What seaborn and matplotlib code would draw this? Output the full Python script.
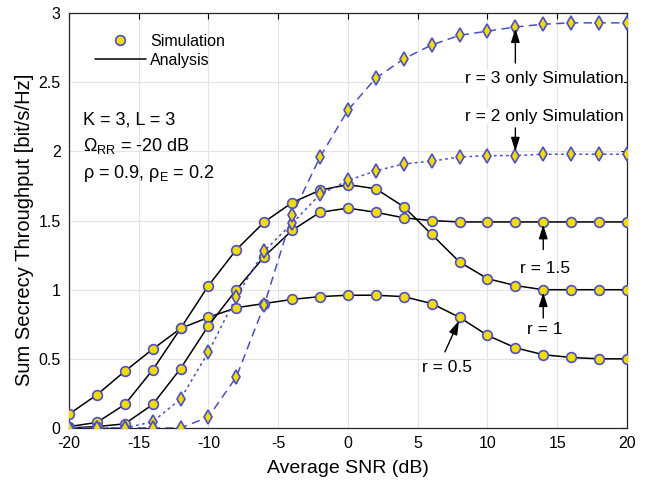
import numpy as np
import pandas as pd
import matplotlib
matplotlib.use("Agg")
import matplotlib.pyplot as plt
import seaborn as sns
from matplotlib.lines import Line2D

snr = [-20, -18, -16, -14, -12, -10, -8, -6, -4, -2, 0, 2, 4, 6, 8, 10, 12, 14, 16, 18, 20]

r05 = [0.10, 0.24, 0.41, 0.57, 0.72, 0.80, 0.87, 0.90, 0.93, 0.95, 0.96, 0.96, 0.95, 0.90, 0.80, 0.67, 0.58, 0.53, 0.51, 0.50, 0.50]
r1 = [0.01, 0.04, 0.17, 0.42, 0.72, 1.03, 1.29, 1.49, 1.63, 1.72, 1.76, 1.73, 1.60, 1.40, 1.20, 1.08, 1.03, 1.00, 1.00, 1.00, 1.00]
r15 = [0.00, 0.01, 0.03, 0.17, 0.43, 0.74, 1.00, 1.24, 1.43, 1.56, 1.59, 1.56, 1.52, 1.50, 1.49, 1.49, 1.49, 1.49, 1.49, 1.49, 1.49]
r2 = [0.00, 0.00, 0.00, 0.045, 0.21, 0.55, 0.95, 1.28, 1.48, 1.69, 1.79, 1.86, 1.91, 1.93, 1.96, 1.97, 1.97, 1.98, 1.98, 1.98, 1.98]
r3 = [0.00, 0.00, 0.00, 0.00, 0.00, 0.08, 0.37, 0.89, 1.54, 1.96, 2.30, 2.53, 2.67, 2.77, 2.84, 2.87, 2.90, 2.92, 2.93, 2.93, 2.93]

xticks = [-20, -15, -10, -5, 0, 5, 10, 15, 20]
yticks = [0, 0.5, 1, 1.5, 2, 2.5, 3]
ytick_labels = ['0', '0.5', '1', '1.5', '2', '2.5', '3']

sns.set_theme(style="whitegrid")
plt.rcParams['font.family'] = ['Liberation Sans', 'DejaVu Sans']
plt.rcParams['mathtext.fontset'] = 'custom'
plt.rcParams['mathtext.rm'] = 'Liberation Sans'
plt.rcParams['mathtext.it'] = 'Liberation Sans'
plt.rcParams['text.color'] = 'black'
plt.rcParams['axes.labelcolor'] = 'black'

fig = plt.figure(figsize=(6.48, 4.88), dpi=100)
ax = fig.add_axes([0.1065, 0.123, 0.861, 0.850])

face = '#F2DC00'
edge = '#4B50C8'
blue = '#4A4FC0'

for vals in [r05, r1, r15]:
    sns.lineplot(x=snr, y=vals, ax=ax, color='black', linewidth=1.1,
                 marker='o', markersize=7, markerfacecolor=face,
                 markeredgecolor=edge, markeredgewidth=1.2, zorder=3)

sns.lineplot(x=snr, y=r2, ax=ax, color=blue, linewidth=1.1,
             marker='d', markersize=7.5, markerfacecolor=face,
             markeredgecolor=edge, markeredgewidth=1.2, zorder=3)
ax.lines[-1].set_dashes([1.8, 2.2])
sns.lineplot(x=snr, y=r3, ax=ax, color=blue, linewidth=1.1,
             marker='d', markersize=7.5, markerfacecolor=face,
             markeredgecolor=edge, markeredgewidth=1.2, zorder=3)
ax.lines[-1].set_dashes([5.5, 3.5])

ax.set_xlim(-20, 20)
ax.set_ylim(0, 3)
ax.set_xticks(xticks)
ax.set_yticks(yticks)
ax.set_xticklabels([str(t) for t in xticks])
ax.set_yticklabels(ytick_labels)
ax.tick_params(axis='both', labelsize=11.5, direction='in', length=4, width=0.8,
               top=True, right=True, colors='black', pad=6)
ax.grid(True, color='#E3E3E3', linewidth=0.8)
for s in ax.spines.values():
    s.set_color('#262626')
    s.set_linewidth(0.9)
    s.set_visible(True)
ax.set_facecolor('white')
ax.set_xlabel('Average SNR (dB)', fontsize=14, color='black', labelpad=6)
ax.set_ylabel('Sum Secrecy Throughput [bit/s/Hz]', fontsize=14.5, color='black', labelpad=3)
ax.yaxis.set_label_coords(-0.062, 0.477)

handles = [Line2D([], [], linestyle='none', marker='o', markersize=7,
                  markerfacecolor=face, markeredgecolor=edge, markeredgewidth=1.2),
           Line2D([], [], color='black', linewidth=1.1)]
ax.legend(handles, ['Simulation', 'Analysis'], loc='upper left',
          bbox_to_anchor=(0.02, 0.985), frameon=False, fontsize=11.5,
          handlelength=3.2, handletextpad=0.3, labelspacing=0.25)

ax.text(-19.0, 2.23, 'K = 3, L = 3', fontsize=13, va='center', ha='left')
ax.text(-19.0, 2.04, r'$\Omega_{\mathrm{RR}}$ = -20 dB', fontsize=13, va='center', ha='left')
ax.text(-19.0, 1.84, r'$\rho$ = 0.9, $\rho_{\mathrm{E}}$ = 0.2', fontsize=13, va='center', ha='left')

bbox = dict(facecolor='white', edgecolor='none', pad=0.5)
arrow = dict(arrowstyle='-|>,head_length=0.7,head_width=0.22', color='black', lw=1.0,
             shrinkA=0, shrinkB=1)

ax.text(14.05, 2.53, 'r = 3 only Simulation', ha='center', va='center', fontsize=12.5, bbox=bbox, zorder=4)
ax.text(14.05, 2.255, 'r = 2 only Simulation', ha='center', va='center', fontsize=12.5, bbox=bbox, zorder=4)
ax.text(14.1, 1.157, 'r = 1.5', ha='center', va='center', fontsize=12.5)
ax.text(14.1, 0.71, 'r = 1', ha='center', va='center', fontsize=12.5)
ax.text(7.1, 0.44, 'r = 0.5', ha='center', va='center', fontsize=12.5)

ax.annotate('', xy=(12, 2.90), xytext=(12, 2.64), arrowprops=arrow)
ax.annotate('', xy=(12, 1.99), xytext=(12, 2.17), arrowprops=arrow)
ax.annotate('', xy=(14, 1.48), xytext=(14, 1.29), arrowprops=arrow)
ax.annotate('', xy=(14, 0.99), xytext=(14, 0.795), arrowprops=arrow)
ax.annotate('', xy=(8, 0.785), xytext=(6.95, 0.55), arrowprops=arrow)

fig.savefig('out.png', dpi=100)
